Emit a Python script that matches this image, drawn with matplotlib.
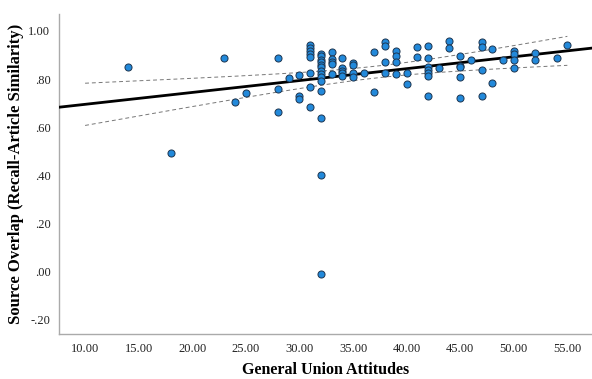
import numpy as np
import matplotlib
matplotlib.use("Agg")
import matplotlib.pyplot as plt

# ---- data ----
attitudes = [14, 18, 23, 24, 25,
             28, 28, 28, 29, 30, 30, 30,
             31, 31, 31, 31, 31, 31, 31, 31,
             32, 32, 32, 32, 32, 32, 32, 32, 32, 32, 32, 32, 32, 32,
             33, 33, 33, 33, 33,
             34, 34, 34, 34, 34,
             35, 35, 35, 35, 36, 37, 37,
             38, 38, 38, 38, 39, 39, 39, 39, 40, 40, 41, 41,
             42, 42, 42, 42, 42, 42, 42, 43, 44, 44,
             45, 45, 45, 45, 45, 46, 47, 47, 47, 47, 48, 48, 49,
             50, 50, 50, 50, 52, 52, 54, 55]
overlap = [0.848, 0.492, 0.889, 0.705, 0.742,
           0.889, 0.759, 0.662, 0.803, 0.818, 0.730, 0.719,
           0.942, 0.930, 0.918, 0.905, 0.892, 0.827, 0.766, 0.683,
           0.903, 0.895, 0.880, 0.870, 0.859, 0.848, 0.835, 0.821, 0.808, 0.792, 0.752, 0.640, 0.403, -0.011,
           0.913, 0.882, 0.872, 0.862, 0.820,
           0.887, 0.845, 0.835, 0.827, 0.814,
           0.866, 0.857, 0.824, 0.810, 0.824, 0.913, 0.747,
           0.954, 0.938, 0.870, 0.827, 0.917, 0.897, 0.870, 0.821, 0.824, 0.779, 0.932, 0.892,
           0.936, 0.889, 0.852, 0.838, 0.827, 0.814, 0.730, 0.845, 0.958, 0.928,
           0.896, 0.855, 0.848, 0.809, 0.720, 0.881, 0.954, 0.932, 0.839, 0.729, 0.924, 0.784, 0.880,
           0.918, 0.903, 0.878, 0.845, 0.910, 0.877, 0.889, 0.942]
x_ticks = [10, 15, 20, 25, 30, 35, 40, 45, 50, 55]
y_ticks = [-0.2, 0.0, 0.2, 0.4, 0.6, 0.8, 1.0]
ci_range = [10, 55]

x = np.array(attitudes, float)
y = np.array(overlap, float)

plt.rcParams['font.family'] = ['Liberation Serif', 'DejaVu Serif']

fig = plt.figure(figsize=(5.92, 3.79), dpi=100)
ax = fig.add_axes([0.0992, 0.118, 0.9008, 0.845])

# linear fit and 95% CI of the mean
n = len(x)
slope, intercept = np.polyfit(x, y, 1)
resid = y - (intercept + slope * x)
s = np.sqrt(np.sum(resid**2) / (n - 2))
xbar = x.mean()
sxx = np.sum((x - xbar)**2)
tcrit = 1.984

xlim = (7.54, 57.3)
xf = np.linspace(xlim[0], xlim[1], 200)
ax.plot(xf, intercept + slope * xf, color='black', lw=2.0, zorder=3)

xc = np.linspace(ci_range[0], ci_range[1], 200)
se = s * np.sqrt(1.0 / n + (xc - xbar)**2 / sxx)
yc = intercept + slope * xc
ax.plot(xc, yc + tcrit * se, color='#777777', lw=0.7, ls=(0, (4, 3)), zorder=2)
ax.plot(xc, yc - tcrit * se, color='#777777', lw=0.7, ls=(0, (4, 3)), zorder=2)

ax.scatter(x, y, s=26, facecolor='#2289da', edgecolor='#1d3550', linewidth=0.7, zorder=4)

ax.set_xlim(*xlim)
ax.set_ylim(-0.26, 1.07)
ax.set_xticks(x_ticks)
ax.set_xticklabels([f"{v:.2f}" for v in x_ticks])
ax.set_yticks(y_ticks)
ax.set_yticklabels([(f"{v:.2f}".replace("0.", ".", 1) if v >= 0 else f"{v:.2f}".replace("-0.", "-.", 1)) for v in y_ticks])
ax.tick_params(length=0, labelsize=9, pad=6, colors='#222222')

for sp in ['top', 'right']:
    ax.spines[sp].set_visible(False)
for sp in ['left', 'bottom']:
    ax.spines[sp].set_color('#aaaaaa')
    ax.spines[sp].set_linewidth(1.0)

ax.set_xlabel('General Union Attitudes', fontsize=11.5, fontweight='bold', labelpad=5)
ax.set_ylabel('Source Overlap (Recall-Article Similarity)', fontsize=12, fontweight='bold', labelpad=3)

fig.savefig('out.png', dpi=100)
